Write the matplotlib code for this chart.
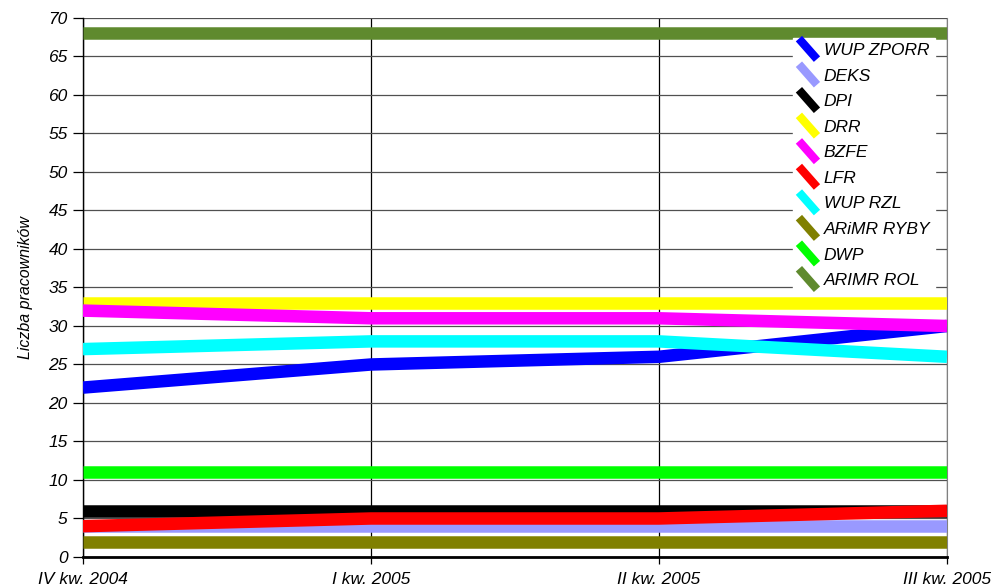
import matplotlib
matplotlib.use("Agg")
import matplotlib.pyplot as plt
from matplotlib.lines import Line2D
from matplotlib.legend_handler import HandlerBase

plt.rcParams['font.family'] = ['Liberation Sans', 'DejaVu Sans']

# kwartały i liczba pracowników w poszczególnych instytucjach
quarters = ["IV kw. 2004", "I kw. 2005", "II kw. 2005", "III kw. 2005"]
names = ["WUP ZPORR", "DEKS", "DPI", "DRR", "BZFE", "LFR",
         "WUP RZL", "ARiMR RYBY", "DWP", "ARIMR ROL"]
wup_zporr = [22, 25, 26, 30]
deks = [4, 4, 4, 4]
dpi = [6, 6, 6, 6]
drr = [33, 33, 33, 33]
bzfe = [32, 31, 31, 30]
lfr = [4, 5, 5, 6]
wup_rzl = [27, 28, 28, 26]
arimr_ryby = [2, 2, 2, 2]
dwp = [11, 11, 11, 11]
arimr_rol = [68, 68, 68, 68]

series = [wup_zporr, deks, dpi, drr, bzfe, lfr, wup_rzl, arimr_ryby, dwp, arimr_rol]
colors = ["#0000FF", "#9999FF", "#000000", "#FFFF00", "#FF00FF",
          "#FF0000", "#00FFFF", "#808000", "#00FF00", "#5F8A2E"]

FS = 12.5


class DiagonalHandler(HandlerBase):
    # ukośny pasek zamiast poziomej linii w legendzie
    def create_artists(self, legend, orig_handle, xdescent, ydescent,
                       width, height, fontsize, trans):
        line = Line2D([xdescent + 1, width - 1], [height + 3, -3],
                      color=orig_handle.get_color(), linewidth=6,
                      solid_capstyle='butt', transform=trans)
        return [line]


fig = plt.figure(figsize=(10.02, 5.86), dpi=100)
ax = fig.add_axes([0.0828, 0.0495, 0.8623, 0.9198])

x = list(range(len(quarters)))
handles = []
for vals, name, col in zip(series, names, colors):
    h, = ax.plot(x, vals, color=col, linewidth=9, label=name,
                 solid_capstyle='butt', solid_joinstyle='miter', zorder=3)
    handles.append(h)

ax.set_xlim(0, 3)
ax.set_ylim(0, 70)
ax.set_yticks(range(0, 71, 5))
ax.set_xticks(x)
ax.set_xticklabels(quarters, fontsize=FS, style='italic')
for lab in ax.get_yticklabels():
    lab.set_fontsize(FS)
    lab.set_style('italic')

ax.yaxis.grid(True, color='#505050', linewidth=0.9, zorder=1)
ax.xaxis.grid(True, color='black', linewidth=0.9, zorder=1)
ax.tick_params(axis='y', direction='out', length=7, width=0.9, pad=4)
ax.tick_params(axis='x', direction='out', length=5, width=0.9, pad=6)

ax.spines['top'].set_visible(False)
ax.spines['right'].set_color('#808080')
ax.spines['left'].set_linewidth(1.0)
ax.spines['bottom'].set_linewidth(2.0)

ax.set_ylabel("Liczba pracowników", fontsize=FS - 1, style='italic', labelpad=11)

leg = ax.legend(handles=handles, handler_map={Line2D: DiagonalHandler()},
                loc='upper left', bbox_to_anchor=(0.822, 0.962),
                frameon=True, fancybox=False, framealpha=1,
                edgecolor='white', facecolor='white',
                prop={'style': 'italic', 'size': FS},
                handlelength=1.2, handletextpad=0.3, labelspacing=0.6,
                borderpad=0.25, borderaxespad=0)
leg.set_zorder(5)

plt.savefig("out.png", dpi=100)
plt.close(fig)
